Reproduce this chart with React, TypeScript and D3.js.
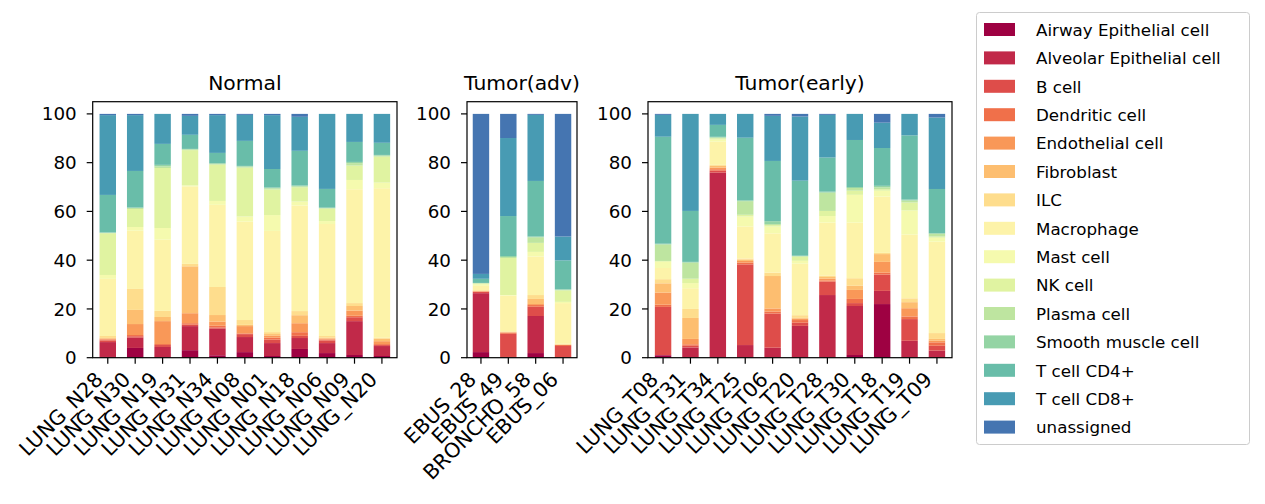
import React from 'react';
import * as d3 from 'd3';

const CELL_TYPES = [
  'Airway Epithelial cell', 'Alveolar Epithelial cell', 'B cell', 'Dendritic cell',
  'Endothelial cell', 'Fibroblast', 'ILC', 'Macrophage', 'Mast cell', 'NK cell',
  'Plasma cell', 'Smooth muscle cell', 'T cell CD4+', 'T cell CD8+', 'unassigned',
];

const NORMAL_SAMPLES = ['LUNG_N28', 'LUNG_N30', 'LUNG_N19', 'LUNG_N31', 'LUNG_N34', 'LUNG_N08', 'LUNG_N01', 'LUNG_N18', 'LUNG_N06', 'LUNG_N09', 'LUNG_N20'];
const NORMAL_VALUES = [
  [0.3, 6.1, 0.7, 0.4, 0.3, 0.3, 0.8, 23.4, 1.6, 17.1, 0.2, 0.1, 15.4, 32.7, 0.5],
  [4.0, 4.2, 0.6, 0.5, 4.5, 5.8, 8.6, 23.9, 1.5, 7.4, 0.4, 0.2, 15.0, 22.9, 0.5],
  [0.2, 4.2, 0.8, 0.4, 9.4, 1.7, 2.5, 29.2, 4.8, 24.6, 0.7, 0.6, 8.6, 12.3, 0],
  [3.1, 9.9, 0.6, 0.6, 4.1, 19.3, 1.0, 31.9, 0.4, 14.5, 0.3, 0.2, 5.8, 7.8, 0.8],
  [1.0, 10.9, 0.5, 0.7, 1.7, 2.7, 11.5, 33.7, 1.6, 14.9, 0.3, 0.3, 4.2, 15.5, 0.5],
  [2.3, 6.2, 1.2, 0.3, 3.0, 0.5, 2.0, 40.5, 2.1, 20.1, 0.4, 0.3, 10.3, 10.7, 0.4],
  [0.7, 5.3, 1.4, 0.8, 0.8, 0.7, 0.8, 41.5, 6.5, 10.5, 0.5, 0.3, 7.6, 22.1, 0.5],
  [3.6, 4.5, 0.9, 1.5, 3.7, 3.3, 1.7, 43.5, 1.6, 5.9, 0.4, 0.3, 14.3, 14.0, 1.2],
  [1.9, 4.1, 1.1, 0.4, 0.4, 0.3, 0.7, 46.0, 1.2, 5.1, 0.3, 0.1, 7.7, 30.8, 0],
  [1.1, 13.9, 1.6, 0.6, 2.1, 1.9, 1.2, 46.7, 3.8, 5.9, 1.0, 0.5, 8.2, 11.5, 0],
  [0.7, 4.1, 0.4, 0.4, 1.2, 1.0, 0.4, 61.6, 2.3, 10.7, 0.4, 0.3, 5.0, 11.9, 0],
];

const ADV_SAMPLES = ['EBUS_28', 'EBUS_49', 'BRONCHO_58', 'EBUS_06'];
const ADV_VALUES = [
  [2.3, 24.2, 0.5, 0.2, 0.1, 0.1, 0.3, 1.8, 0.7, 0.3, 0.1, 0.1, 1.7, 2.0, 65.7],
  [0.1, 0.2, 9.5, 0.5, 0.1, 0.1, 0.3, 14.7, 0.2, 15.2, 0.4, 0.4, 16.4, 32.0, 9.9],
  [1.9, 15.2, 3.8, 0.7, 0.4, 2.1, 1.6, 15.8, 1.9, 3.7, 2.3, 0.3, 22.8, 27.1, 0.4],
  [0.1, 0.1, 4.6, 0.4, 0.1, 0.1, 0.3, 16.7, 0.5, 4.7, 0.3, 0.1, 11.9, 9.8, 50.3],
];

const EARLY_SAMPLES = ['LUNG_T08', 'LUNG_T31', 'LUNG_T34', 'LUNG_T25', 'LUNG_T06', 'LUNG_T20', 'LUNG_T28', 'LUNG_T30', 'LUNG_T18', 'LUNG_T19', 'LUNG_T09'];
const EARLY_VALUES = [
  [1.0, 0.1, 19.8, 0.9, 5.0, 3.8, 1.7, 4.6, 2.6, 0.3, 6.8, 0.3, 44.0, 9.0, 0.4],
  [0.1, 4.1, 0.7, 0.6, 2.2, 8.6, 3.7, 8.5, 2.1, 1.8, 6.6, 0.3, 20.9, 39.8, 0],
  [0.1, 75.8, 0.8, 0.6, 0.7, 0.7, 0.4, 9.5, 0.9, 0.5, 0.3, 0.3, 4.9, 4.5, 0],
  [0.1, 5.1, 33.2, 0.7, 0.7, 0.6, 0.4, 13.2, 4.1, 0.7, 5.6, 0.3, 25.8, 9.8, 0],
  [0.1, 4.0, 14.0, 0.8, 1.3, 13.3, 1.4, 16.1, 2.8, 0.6, 0.4, 1.2, 24.7, 18.5, 0.8],
  [0.1, 13.0, 1.3, 1.1, 0.6, 0.3, 1.1, 21.2, 1.2, 1.7, 0.3, 0.1, 30.9, 26.4, 1.1],
  [0.1, 25.6, 5.5, 0.5, 0.7, 0.7, 0.6, 21.7, 2.7, 2.1, 7.5, 0.4, 14.0, 17.5, 0.4],
  [1.1, 20.1, 1.2, 1.7, 3.7, 1.7, 3.1, 22.8, 11.4, 1.7, 1.1, 0.4, 19.3, 10.7, 0],
  [22.0, 5.4, 6.7, 0.8, 4.4, 3.2, 0.5, 23.1, 2.4, 0.6, 0.8, 0.6, 15.5, 10.4, 3.6],
  [0.1, 6.9, 9.0, 1.1, 3.4, 2.5, 1.6, 26.4, 10.0, 3.3, 0.8, 0.4, 26.6, 8.9, 0],
  [0.1, 2.8, 2.0, 1.4, 0.7, 0.7, 2.4, 37.5, 1.6, 0.5, 1.1, 0.3, 18.1, 29.3, 1.5],
];

const Y_TICKS = [0, 20, 40, 60, 80, 100];

const color = (i: number) => d3.interpolateSpectral(i / 15);
const FONT = 'DejaVu Sans, sans-serif';

interface PanelProps {
  title: string;
  samples: string[];
  values: number[][];
  left: number;
  right: number;
}

const TOP = 101.7;
const BOTTOM = 357.7;

const Panel: React.FC<PanelProps> = ({ title, samples, values, left, right }) => {
  const n = samples.length;
  const pad = n > 5 ? 0.55 : 0.51;
  const x = d3.scaleLinear().domain([-pad, n - 1 + pad]).range([left, right]);
  const y = d3.scaleLinear().domain([0, 105]).range([BOTTOM, TOP]);
  const bw = x(0.6) - x(0);

  return (
    <g>
      {values.map((row, si) => {
        // rows are percentages; rescale so each bar tops out at exactly 100
        const total = d3.sum(row);
        let acc = 0;
        return row.map((v, ci) => {
          const y0 = acc;
          acc += (v / total) * 100;
          return (
            <rect key={`${si}-${ci}`} x={x(si) - bw / 2} width={bw}
              y={y(acc)} height={y(y0) - y(acc)} fill={color(ci)} />
          );
        });
      })}
      <rect x={left} y={TOP} width={right - left} height={BOTTOM - TOP}
        fill="none" stroke="#000" strokeWidth={1.2} />
      {Y_TICKS.map((t) => (
        <g key={t} transform={`translate(${left},${y(t)})`}>
          <line x1={-6} x2={0} stroke="#000" strokeWidth={1.2} />
          <text x={-16} dy="0.36em" textAnchor="end" fontSize={18.3} fontFamily={FONT}>{t}</text>
        </g>
      ))}
      {samples.map((s, i) => (
        <g key={s} transform={`translate(${x(i)},${BOTTOM})`}>
          <line y1={0} y2={6} stroke="#000" strokeWidth={1.2} />
          <text transform="translate(-3.5,23) rotate(-45)" textAnchor="end" fontSize={20.5}
            fontFamily={FONT}>{s}</text>
        </g>
      ))}
      <text x={(left + right) / 2} y={90} textAnchor="middle" fontSize={20.3} fontFamily={FONT}>{title}</text>
    </g>
  );
};

const App: React.FC = () => (
  <div style={{ position: 'absolute', left: 0, top: 0 }}>
    <svg width={1265} height={504} style={{ display: 'block', background: '#fff' }}>
      <Panel title="Normal" samples={NORMAL_SAMPLES} values={NORMAL_VALUES} left={92.7} right={397} />
      <Panel title="Tumor(adv)" samples={ADV_SAMPLES} values={ADV_VALUES} left={467} right={577} />
      <Panel title="Tumor(early)" samples={EARLY_SAMPLES} values={EARLY_VALUES} left={648} right={952} />
      <g>
        <rect x={976.5} y={12.5} width={273} height={432} rx={3} fill="#fff" stroke="#ccc" />
        {CELL_TYPES.map((c, i) => (
          <g key={c} transform={`translate(984,${30 + i * 28.4})`}>
            <rect x={0} y={-7} width={31} height={13} fill={color(i)} />
            <text x={52} dy="0.35em" fontSize={16.7} fontFamily={FONT}>{c}</text>
          </g>
        ))}
      </g>
    </svg>
  </div>
);

export default App;
